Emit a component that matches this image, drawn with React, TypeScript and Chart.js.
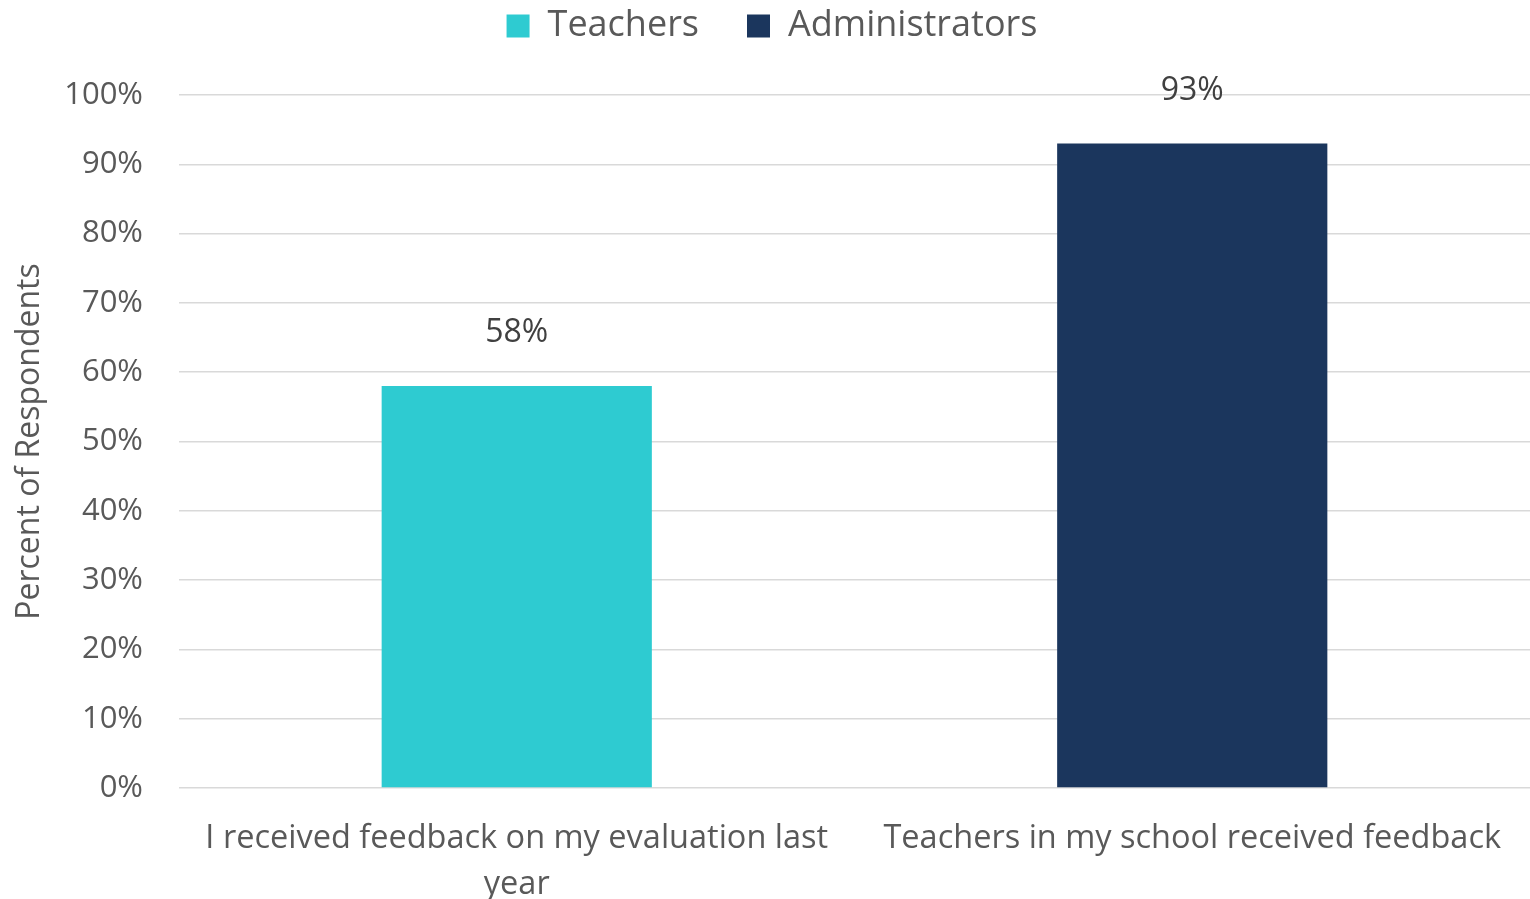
import React, { useEffect, useRef } from "react";
import { Chart, registerables } from "chart.js";

Chart.register(...registerables);

const categories: (string | string[])[] = [
  ["I received feedback on my evaluation last", "year"],
  "Teachers in my school received feedback",
];
const seriesNames = ["Teachers", "Administrators"];
const teachersValues: (number | null)[] = [58, null];
const administratorsValues: (number | null)[] = [null, 93];
const yTicks = [0, 10, 20, 30, 40, 50, 60, 70, 80, 90, 100];
const colors = ["#2ECBD1", "#1B365D"];

const FONT = "'Open Sans', sans-serif";

const valueLabels = {
  id: "valueLabels",
  afterDatasetsDraw(chart: any) {
    const ctx = chart.ctx;
    ctx.save();
    ctx.font = `32px ${FONT}`;
    ctx.fillStyle = "#404040";
    ctx.textAlign = "center";
    ctx.textBaseline = "middle";
    chart.data.datasets.forEach((ds: any, i: number) => {
      const meta = chart.getDatasetMeta(i);
      meta.data.forEach((el: any, j: number) => {
        const v = ds.data[j];
        if (v === null || v === undefined) return;
        ctx.fillText(`${v}%`, el.x, el.y - 53);
      });
    });
    ctx.restore();
  },
};

const legendTweak = {
  id: "legendTweak",
  beforeInit(chart: any) {
    const lg = chart.legend;
    if (!lg) return;
    const origFit = lg.fit;
    lg.fit = function () {
      origFit.call(this);
      this.height = 95;
    };
    const origDraw = lg.draw;
    lg.draw = function () {
      const ctx = this.ctx;
      ctx.save();
      ctx.translate(7, -40);
      origDraw.call(this);
      ctx.restore();
    };
  },
};

export default function App() {
  const ref = useRef<HTMLCanvasElement>(null);
  useEffect(() => {
    if (!ref.current) return;
    const chart = new Chart(ref.current, {
      type: "bar",
      data: {
        labels: categories,
        datasets: [
          {
            label: seriesNames[0],
            data: teachersValues,
            backgroundColor: colors[0],
            skipNull: true,
            categoryPercentage: 0.4,
            barPercentage: 1,
          } as any,
          {
            label: seriesNames[1],
            data: administratorsValues,
            backgroundColor: colors[1],
            skipNull: true,
            categoryPercentage: 0.4,
            barPercentage: 1,
          } as any,
        ],
      },
      plugins: [valueLabels, legendTweak],
      options: {
        animation: false,
        responsive: false,
        maintainAspectRatio: false,
        layout: { padding: { left: 0, right: 0, top: 0, bottom: 0 } },
        plugins: {
          legend: {
            position: "top",
            labels: {
              font: { family: FONT, size: 36 },
              color: "#595959",
              boxWidth: 23,
              boxHeight: 23,
              padding: 48,
            },
          },
          tooltip: { enabled: false },
        },
        scales: {
          x: {
            grid: { display: false, drawTicks: false },
            border: { display: false },
            ticks: {
              font: { family: FONT, size: 32.5, lineHeight: 1.42 },
              color: "#595959",
              maxRotation: 0,
              autoSkip: false,
              padding: 28,
            },
            afterFit: (s: any) => {
              s.height = 111;
            },
          },
          y: {
            min: 0,
            max: 100,
            afterBuildTicks: (s: any) => {
              s.ticks = yTicks.map((v) => ({ value: v }));
            },
            grid: {
              color: "#D9D9D9",
              lineWidth: 1.5,
              drawTicks: false,
            },
            border: { display: false },
            ticks: {
              font: { family: FONT, size: 31 },
              color: "#595959",
              padding: 36,
              callback: (v: any) => `${v}%`,
            },
            title: {
              display: true,
              text: "Percent of Respondents",
              font: { family: FONT, size: 32 },
              color: "#595959",
              padding: { top: 11, bottom: 0 },
            },
            afterFit: (s: any) => {
              s.width = 179;
            },
          },
        },
      },
    });
    return () => chart.destroy();
  }, []);
  return (
    <div style={{ position: "fixed", left: 0, top: 0, width: 1530, height: 899, background: "#fff" }}>
      <canvas ref={ref} width={1530} height={899} style={{ display: "block" }} />
    </div>
  );
}
